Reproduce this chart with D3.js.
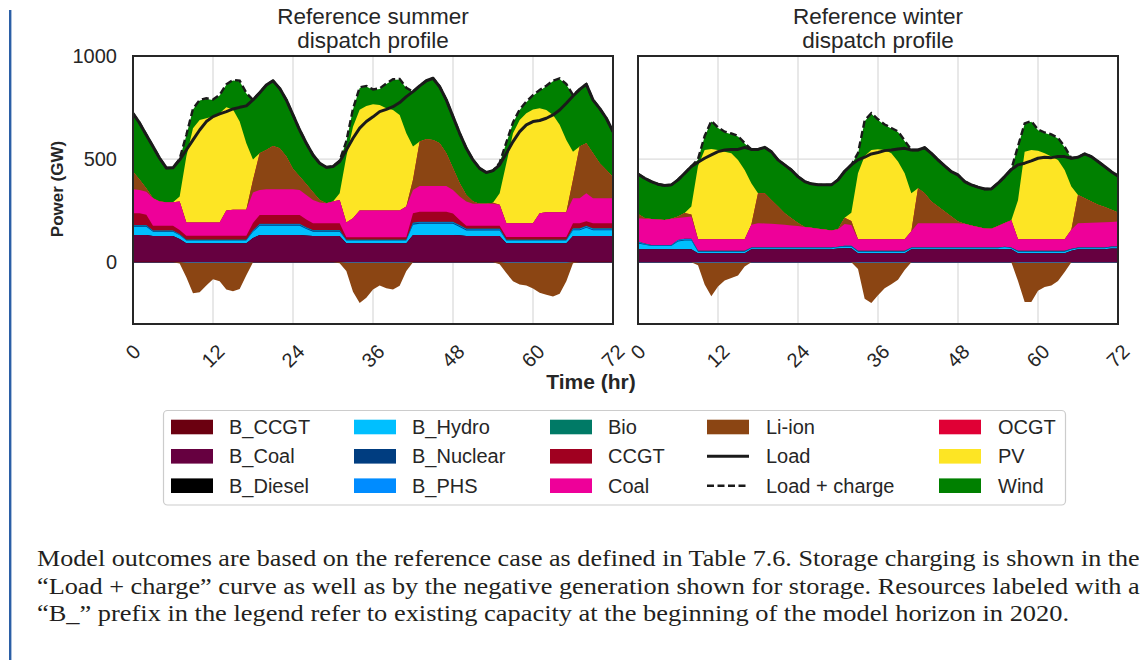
<!DOCTYPE html>
<html>
<head>
<meta charset="utf-8">
<script src="https://cdn.jsdelivr.net/npm/d3@7"></script>
<style>
  html, body { margin: 0; padding: 0; background: #ffffff; }
  svg { display: block; }
</style>
</head>
<body>
<svg id="fig" width="1143" height="660"></svg>
<script>
// ---------------------------------------------------------------
// Hourly dispatch (GW), hours 0..72, for the two reference weeks.
// ---------------------------------------------------------------
const hours = d3.range(0, 73);

// ---- Summer ----
const summerLoad = [722,674,617,561,504,457,458,496,544,593, 641,682,706,719,730,743,751,758,787,822,
  859,880,843,787,714,641,577,520,480,460, 464,488,544,601,650,682,705,730,741,754,
  774,803,827,855,880,892,851,787,706,625, 552,496,455,435,444,472,528,585,633,666,
  682,687,698,714,738,771,806,838,863,787, 746,698,633];
const summerBCCGT = [3,3,3,3,3,3,3,2,1,1, 1,1,1,1,1,1,1,1,2,3, 3,3,3,3,3,3,3,3,3,3,
  3,3,1,1,1,1,1,1,1,1, 1,1,3,3,3,3,3,3,3,3, 3,3,3,3,3,3,1,1,1,1, 1,1,1,1,1,1,3,3,3,3, 3,3,3];
const summerBCoal = [129,129,129,124,124,124,124,110,91,91, 91,91,91,91,91,91,91,91,115,129,
  129,129,129,129,129,129,126,124,124,124, 124,124,91,91,91,91,91,91,91,91,
  91,91,129,129,129,129,129,129,129,127, 124,124,124,124,124,124,91,91,91,91,
  91,91,91,91,91,91,124,124,124,124, 124,124,124];
const summerBHydro = [40,40,40,21,21,21,21,18,13,13, 13,13,13,13,13,13,13,13,30,44,
  44,44,44,44,44,44,32,21,21,21, 21,21,13,13,13,13,13,13,13,13,
  13,13,50,54,54,54,54,54,54,40, 27,27,27,27,27,27,13,13,13,13,
  13,13,13,13,13,13,28,28,40,28, 28,28,28];
const summerBNuclear = [4,4,4,3,3,3,3,3,3,3, 3,3,3,3,3,3,3,3,4,5, 5,5,5,5,5,5,4,4,4,4,
  4,4,3,3,3,3,3,3,3,3, 3,3,5,5,5,5,5,5,5,5, 4,4,4,4,4,4,3,3,3,3, 3,3,3,3,3,3,4,4,4,4, 4,4,4];
const summerBPHS = [2,2,2,1,1,1,1,1,0,0, 0,0,0,0,0,0,0,0,2,3, 3,3,3,3,3,3,2,2,2,2,
  2,2,0,0,0,0,0,0,0,0, 0,0,3,3,3,3,3,3,3,3, 3,3,3,3,3,3,0,0,0,0, 0,0,0,0,0,0,3,3,3,3, 3,3,3];
const summerBio = [2,2,2,2,2,2,2,2,2,2, 2,2,2,2,2,2,2,2,2,2, 2,2,2,2,2,2,2,2,2,2,
  2,2,2,2,2,2,2,2,2,2, 2,2,2,2,2,2,2,2,2,2, 2,2,2,2,2,2,2,2,2,2, 2,2,2,2,2,2,2,2,2,2, 2,2,2];
const summerCCGT = [57,57,50,22,22,22,22,20,18,18, 18,18,18,18,18,18,18,18,35,43,
  43,43,43,43,43,43,38,33,33,33, 33,33,11,11,11,11,11,11,11,11,
  11,11,45,48,48,48,48,48,40,25, 13,13,13,13,13,13,12,12,12,12,
  12,12,12,12,12,12,25,25,22,25, 25,25,25];
const summerCoal = [117,113,112,134,118,114,114,138,64,64, 64,64,64,64,122,126,126,126,148,121,
  125,125,125,125,125,121,119,113,100,97, 105,113,71,92,129,129,129,129,129,129,
  129,149,113,126,126,126,126,126,114,113, 118,107,107,107,107,102,67,67,67,67,
  67,115,120,120,120,120,121,121,136,121, 121,121,121];
const summerLiIon = [85,50,15,0,0,0,0,0,0,0, 0,0,0,0,0,0,0,0,60,178,
  190,210,199,158,98,65,52,37,13,0, 0,0,0,0,0,0,0,0,0,0,
  0,0,50,215,226,223,207,158,106,65, 32,11,0,0,5,0,0,0,0,0,
  0,0,0,0,0,0,90,251,243,218, 170,137,102];
const summerPV = [0,0,0,0,0,0,0,24,320,457, 498,506,514,530,501,487,428,323,100,0,
  0,0,0,0,0,0,0,0,0,0, 0,32,320,444,489,508,516,512,496,488,
  464,355,161,0,0,0,0,0,0,0, 0,0,0,0,0,56,291,436,501,533,
  552,509,496,472,424,351,136,0,0,0, 0,0,0];
const summerWind = [283,274,260,251,210,167,168,184,102,92, 94,94,80,87,109,140,196,241,289,294,
  315,316,290,275,262,226,199,181,178,174, 170,159,72,84,106,94,69,78,118,146,
  172,218,266,270,284,299,274,259,250,242, 226,202,172,152,156,148,98,50,48,54,
  66,86,115,163,222,268,275,277,286,259, 266,251,221];
// storage charging (drawn below zero)
const summerLiIonCharge = [0,0,0,0,0,0,0,6,70,148, 143,110,80,90,130,138,127,60,0,0,
  0,0,0,0,0,0,0,0,0,0, 0,5,40,140,195,170,130,110,123,130,
  112,40,0,0,0,0,0,0,0,0, 0,0,0,0,0,10,50,90,105,110,
  125,145,155,163,150,90,5,0,0,0, 0,0,0];
const summerPHSCharge = [0,0,0,0,0,0,0,0,3,3, 3,3,3,3,3,3,3,3,0,0, 0,0,0,0,0,0,0,0,0,0,
  0,0,3,3,3,3,3,3,3,3, 3,3,0,0,0,0,0,0,0,0, 0,0,0,0,0,0,3,3,3,3, 3,3,3,3,3,3,0,0,0,0, 0,0,0];

// ---- Winter ----
const winterLoad = [428,407,391,378,372,375,399,431,464,485, 504,520,536,544,547,547,557,547,547,557,
  536,496,472,447,415,391,380,375,375,375, 399,441,472,496,509,525,532,541,544,549,
  552,544,544,556,528,496,467,439,423,391, 375,364,355,355,383,415,450,472,480,491,
  504,509,507,512,512,504,509,525,512,488, 464,439,418];
const winterBCoal = [62,62,62,62,62,62,62,62,62,43, 43,43,43,43,43,43,43,63,63,63,
  63,63,63,63,63,63,63,63,63,63, 66,68,68,43,43,43,43,43,43,43,
  43,63,63,63,63,63,63,63,63,63, 63,63,63,63,63,63,63,43,43,43,
  43,43,43,43,43,55,63,63,63,63, 63,66,66];
const winterBHydro = [29,22,16,16,16,16,38,43,43,8, 8,8,8,8,8,8,8,5,5,5,
  5,5,5,5,5,5,5,5,5,5, 6,7,7,8,8,8,8,8,8,8,
  8,5,5,5,5,5,5,5,5,5, 5,5,5,5,5,9,5,8,8,8,
  8,8,8,8,8,6,5,5,5,5, 5,6,6];
const winterBNuclear = [4,3,3,3,3,3,4,4,4,3, 3,3,3,3,3,3,3,2,2,2, 2,2,2,2,2,2,2,2,2,2,
  2,3,3,3,3,3,3,3,3,3, 3,2,2,2,2,2,2,2,2,2, 2,2,2,2,2,2,2,3,3,3, 3,3,3,3,3,3,2,2,2,2, 2,3,3];
const winterBPHS = [4,2,1,1,1,1,3,3,3,0, 0,0,0,0,0,0,0,0,0,0, 0,0,0,0,0,0,0,0,0,0,
  0,1,1,0,0,0,0,0,0,0, 0,0,0,0,0,0,0,0,0,0, 0,0,0,0,0,0,0,0,0,0, 0,0,0,0,0,0,0,0,0,0, 0,0,0];
const winterBio = [1,1,1,1,1,1,1,1,1,1, 1,1,1,1,1,1,1,1,1,1, 1,1,1,1,1,1,1,1,1,1,
  1,1,1,1,1,1,1,1,1,1, 1,1,1,1,1,1,1,1,1,1, 1,1,1,1,1,1,1,1,1,1, 1,1,1,1,1,1,1,1,1,1, 1,1,1];
const winterCoal = [113,121,126,124,122,127,106,105,108,56, 56,56,56,56,56,56,56,110,118,117,
  115,113,110,107,104,100,96,91,87,83, 85,105,100,56,56,56,56,56,56,56,
  56,79,118,118,118,118,118,118,118,115, 107,99,92,91,104,115,132,56,56,56,
  56,56,56,56,56,92,118,119,120,121, 122,119,121];
const winterLiIon = [20,3,0,0,0,0,8,20,10,0, 0,0,0,0,0,0,0,0,145,146,
  116,86,56,35,15,0,0,0,0,0, 0,30,20,0,0,0,0,0,0,0,
  0,0,170,145,105,81,57,32,8,0, 0,0,0,0,0,0,0,0,0,0,
  0,0,0,0,0,0,137,120,103,86, 74,59,44];
const winterPV = [0,0,0,0,0,0,0,0,39,355, 433,438,433,425,417,385,336,202,0,0,
  0,0,0,0,0,0,0,0,0,0, 0,0,40,320,404,433,437,433,417,377,
  320,184,0,0,0,0,0,0,0,0, 0,0,0,0,0,0,0,189,425,433,
  429,417,401,385,336,210,0,0,0,0, 0,0,0];
const winterWind = [195,193,182,171,167,165,177,193,194,31, 65,133,107,94,93,113,128,164,213,223,
  234,226,235,234,225,220,213,213,217,221, 239,226,232,95,169,176,142,121,120,143,
  156,210,185,222,234,226,221,218,226,205, 197,194,192,193,208,225,247,260,134,137,
  100,98,105,104,110,137,183,215,218,210, 197,185,177];
const winterLiIonCharge = [0,0,0,0,0,0,0,0,0,12, 105,162,115,86,74,62,18,0,0,0,
  0,0,0,0,0,0,0,0,0,0, 0,0,0,30,175,195,158,124,104,82,
  35,0,0,0,0,0,0,0,0,0, 0,0,0,0,0,0,0,88,190,190,
  136,117,110,88,45,0,0,0,0,0, 0,0,0];
const winterPHSCharge = [0,0,0,0,0,0,0,0,0,3, 3,3,3,3,3,3,3,0,0,0, 0,0,0,0,0,0,0,0,0,0,
  0,0,0,3,3,3,3,3,3,3, 3,0,0,0,0,0,0,0,0,0, 0,0,0,0,0,0,0,3,3,3, 3,3,3,3,3,0,0,0,0,0, 0,0,0];

// Axis ticks
const xTicks = [0, 12, 24, 36, 48, 60, 72];
const yTicks = [0, 500, 1000];

// Resources in stacking order (B_Diesel and OCGT are not dispatched in these weeks)
const techs = ["B_CCGT","B_Coal","B_Diesel","B_Hydro","B_Nuclear","B_PHS","Bio","CCGT","Coal","Li-ion","OCGT","PV","Wind"];
const techColors = {
  "B_CCGT": "#6b0010", "B_Coal": "#660040", "B_Diesel": "#000000", "B_Hydro": "#00bfff",
  "B_Nuclear": "#003d80", "B_PHS": "#008cff", "Bio": "#007a66", "CCGT": "#a00020",
  "Coal": "#ee0099", "Li-ion": "#8b4513", "OCGT": "#e00035", "PV": "#fde524", "Wind": "#008000"
};

const panels = [
  { id: "summer", title: ["Reference summer", "dispatch profile"], left: 133, right: 613,
    load: summerLoad,
    gen: { "B_CCGT": summerBCCGT, "B_Coal": summerBCoal, "B_Hydro": summerBHydro, "B_Nuclear": summerBNuclear,
           "B_PHS": summerBPHS, "Bio": summerBio, "CCGT": summerCCGT, "Coal": summerCoal,
           "Li-ion": summerLiIon, "PV": summerPV, "Wind": summerWind },
    charge: { "B_PHS": summerPHSCharge, "Li-ion": summerLiIonCharge } },
  { id: "winter", title: ["Reference winter", "dispatch profile"], left: 638, right: 1118,
    load: winterLoad,
    gen: { "B_Coal": winterBCoal, "B_Hydro": winterBHydro, "B_Nuclear": winterBNuclear,
           "B_PHS": winterBPHS, "Bio": winterBio, "Coal": winterCoal,
           "Li-ion": winterLiIon, "PV": winterPV, "Wind": winterWind },
    charge: { "B_PHS": winterPHSCharge, "Li-ion": winterLiIonCharge } }
];

const captionLines = [
  "Model outcomes are based on the reference case as defined in Table 7.6. Storage charging is shown in the",
  "\u201CLoad + charge\u201D curve as well as by the negative generation shown for storage. Resources labeled with a",
  "\u201CB_\u201D prefix in the legend refer to existing capacity at the beginning of the model horizon in 2020."
];

// ---------------------------------------------------------------
const SANS = '"Liberation Sans", Arial, Helvetica, sans-serif';
const SERIF = '"Liberation Serif", "Times New Roman", serif';
const INK = "#262626";

const svg = d3.select("#fig");
const defs = svg.append("defs");

// page margin rule
svg.append("rect").attr("x", 9).attr("y", 10).attr("width", 2.4).attr("height", 650).attr("fill", "#2b5fa6");

const plotTop = 56, plotBottom = 324;
const y = d3.scaleLinear().domain([-300, 1000]).range([plotBottom, plotTop]);

panels.forEach((p, pi) => {
  const x = d3.scaleLinear().domain([0, 72]).range([p.left, p.right]);
  const g = svg.append("g");

  defs.append("clipPath").attr("id", "clip-" + p.id)
    .append("rect").attr("x", p.left).attr("y", plotTop).attr("width", p.right - p.left).attr("height", plotBottom - plotTop);

  // grid
  const grid = g.append("g").attr("stroke", "#dcdcdc").attr("stroke-width", 1.3);
  grid.selectAll("line.v").data(xTicks).join("line").attr("class", "v")
    .attr("x1", d => x(d)).attr("x2", d => x(d)).attr("y1", plotTop).attr("y2", plotBottom);
  grid.selectAll("line.h").data(yTicks).join("line").attr("class", "h")
    .attr("x1", p.left).attr("x2", p.right).attr("y1", d => y(d)).attr("y2", d => y(d));

  // table rows for the stacks
  const rows = hours.map((h, i) => {
    const r = { hour: h };
    techs.forEach(k => { r[k] = p.gen[k] ? p.gen[k][i] : 0; });
    r["B_PHS charge"] = -p.charge["B_PHS"][i];
    r["Li-ion charge"] = -p.charge["Li-ion"][i];
    return r;
  });
  const posStack = d3.stack().keys(techs)(rows);
  const negKeys = ["B_PHS charge", "Li-ion charge"];
  const negStack = d3.stack().keys(negKeys)(rows);

  // each layer is filled from zero up to its cumulative edge, topmost first,
  // so neighbouring layers overlap instead of leaving hairline seams
  const area = d3.area().x(d => x(d.data.hour)).y0(y(0)).y1(d => y(d[1]));
  const plot = g.append("g").attr("clip-path", "url(#clip-" + p.id + ")");
  plot.selectAll("path.pos").data(posStack.slice().reverse()).join("path").attr("class", "pos")
    .attr("fill", s => techColors[s.key]).attr("d", area);
  plot.selectAll("path.neg").data(negStack.slice().reverse()).join("path").attr("class", "neg")
    .attr("fill", s => techColors[s.key.replace(" charge", "")]).attr("d", area);

  // load and load + charge
  const line = d3.line().x((d, i) => x(hours[i])).y(d => y(d));
  const loadPlusCharge = p.load.map((v, i) => v + p.charge["Li-ion"][i] + p.charge["B_PHS"][i]);
  plot.append("path").attr("d", line(loadPlusCharge)).attr("fill", "none")
    .attr("stroke", "#1a1a1a").attr("stroke-width", 2.4).attr("stroke-dasharray", "7,3.5");
  plot.append("path").attr("d", line(p.load)).attr("fill", "none")
    .attr("stroke", "#1a1a1a").attr("stroke-width", 3).attr("stroke-linejoin", "round");

  // frame
  g.append("rect").attr("x", p.left).attr("y", plotTop).attr("width", p.right - p.left).attr("height", plotBottom - plotTop)
    .attr("fill", "none").attr("stroke", INK).attr("stroke-width", 2);

  // title
  const cx = (p.left + p.right) / 2;
  g.append("text").attr("x", cx).attr("y", 24).attr("text-anchor", "middle")
    .attr("font-family", SANS).attr("font-size", 22.5).attr("fill", INK).text(p.title[0]);
  g.append("text").attr("x", cx).attr("y", 48).attr("text-anchor", "middle")
    .attr("font-family", SANS).attr("font-size", 22.5).attr("fill", INK).text(p.title[1]);

  // x tick labels, rotated 45 degrees, top of their box at a fixed line
  xTicks.forEach(t => {
    const tx = g.append("text").attr("font-family", SANS).attr("font-size", 20).attr("fill", INK)
      .attr("text-anchor", "middle").attr("dominant-baseline", "central").text(t);
    const w = tx.node().getComputedTextLength();
    const cy = 343 + (w + 14.3) * 0.7071 / 2;
    tx.attr("x", x(t)).attr("y", cy).attr("transform", `rotate(-45,${x(t)},${cy})`);
  });

  // y tick labels on the first panel only
  if (pi === 0) {
    g.selectAll("text.yt").data(yTicks).join("text").attr("class", "yt")
      .attr("x", p.left - 16).attr("y", d => y(d)).attr("text-anchor", "end").attr("dominant-baseline", "central")
      .attr("font-family", SANS).attr("font-size", 20).attr("fill", INK).text(d => d);
    g.append("text").attr("transform", `translate(63,${(plotTop + plotBottom) / 2 - 1}) rotate(-90)`)
      .attr("text-anchor", "middle").attr("font-family", SANS).attr("font-weight", "bold")
      .attr("font-size", 17).attr("fill", INK).text("Power (GW)");
  }
});

// x axis title
svg.append("text").attr("x", 591).attr("y", 389).attr("text-anchor", "middle")
  .attr("font-family", SANS).attr("font-weight", "bold").attr("font-size", 21).attr("fill", INK).text("Time (hr)");

// legend
const legendItems = [
  { label: "B_CCGT", kind: "patch", color: techColors["B_CCGT"] },
  { label: "B_Coal", kind: "patch", color: techColors["B_Coal"] },
  { label: "B_Diesel", kind: "patch", color: techColors["B_Diesel"] },
  { label: "B_Hydro", kind: "patch", color: techColors["B_Hydro"] },
  { label: "B_Nuclear", kind: "patch", color: techColors["B_Nuclear"] },
  { label: "B_PHS", kind: "patch", color: techColors["B_PHS"] },
  { label: "Bio", kind: "patch", color: techColors["Bio"] },
  { label: "CCGT", kind: "patch", color: techColors["CCGT"] },
  { label: "Coal", kind: "patch", color: techColors["Coal"] },
  { label: "Li-ion", kind: "patch", color: techColors["Li-ion"] },
  { label: "Load", kind: "line" },
  { label: "Load + charge", kind: "dash" },
  { label: "OCGT", kind: "patch", color: techColors["OCGT"] },
  { label: "PV", kind: "patch", color: techColors["PV"] },
  { label: "Wind", kind: "patch", color: techColors["Wind"] }
];
const legSwatchX = [171, 354, 550, 707, 939];
const legTextX = [229, 412, 608, 766, 998];
const legRowY = [427, 456.3, 485.7];
const leg = svg.append("g");
leg.append("rect").attr("x", 163.5).attr("y", 410.5).attr("width", 902).attr("height", 94.5).attr("rx", 4)
  .attr("fill", "#ffffff").attr("stroke", "#cccccc").attr("stroke-width", 1.2);
legendItems.forEach((it, i) => {
  const c = Math.floor(i / 3), r = i % 3;
  const sx = legSwatchX[c], cy = legRowY[r];
  if (it.kind === "patch") {
    leg.append("rect").attr("x", sx).attr("y", cy - 7.3).attr("width", 42).attr("height", 14.6).attr("fill", it.color);
  } else {
    leg.append("line").attr("x1", sx).attr("x2", sx + 42).attr("y1", cy).attr("y2", cy)
      .attr("stroke", "#1a1a1a").attr("stroke-width", it.kind === "line" ? 3 : 2.4)
      .attr("stroke-dasharray", it.kind === "dash" ? "7,3.5" : null);
  }
  leg.append("text").attr("x", legTextX[c]).attr("y", cy).attr("dominant-baseline", "central")
    .attr("font-family", SANS).attr("font-size", 20).attr("fill", INK).text(it.label);
});

// caption: a book-style serif set a little wider than Times, each line kept inside the page
const caps = svg.selectAll("g.caption").data(captionLines).join("g").attr("class", "caption");
const capText = caps.append("text").attr("x", 0).attr("y", 0)
  .attr("font-family", SERIF).attr("font-size", 22.5).attr("fill", "#231f20").text(d => d);
const capWidths = capText.nodes().map(n => n.getComputedTextLength());
const widen = 1033 / capWidths[2];
caps.attr("transform", (d, i) => {
  const k = Math.min(widen, (1140 - 37) / capWidths[i]);
  return `translate(37,${566 + i * 27.5}) scale(${k},1)`;
});
</script>
</body>
</html>
